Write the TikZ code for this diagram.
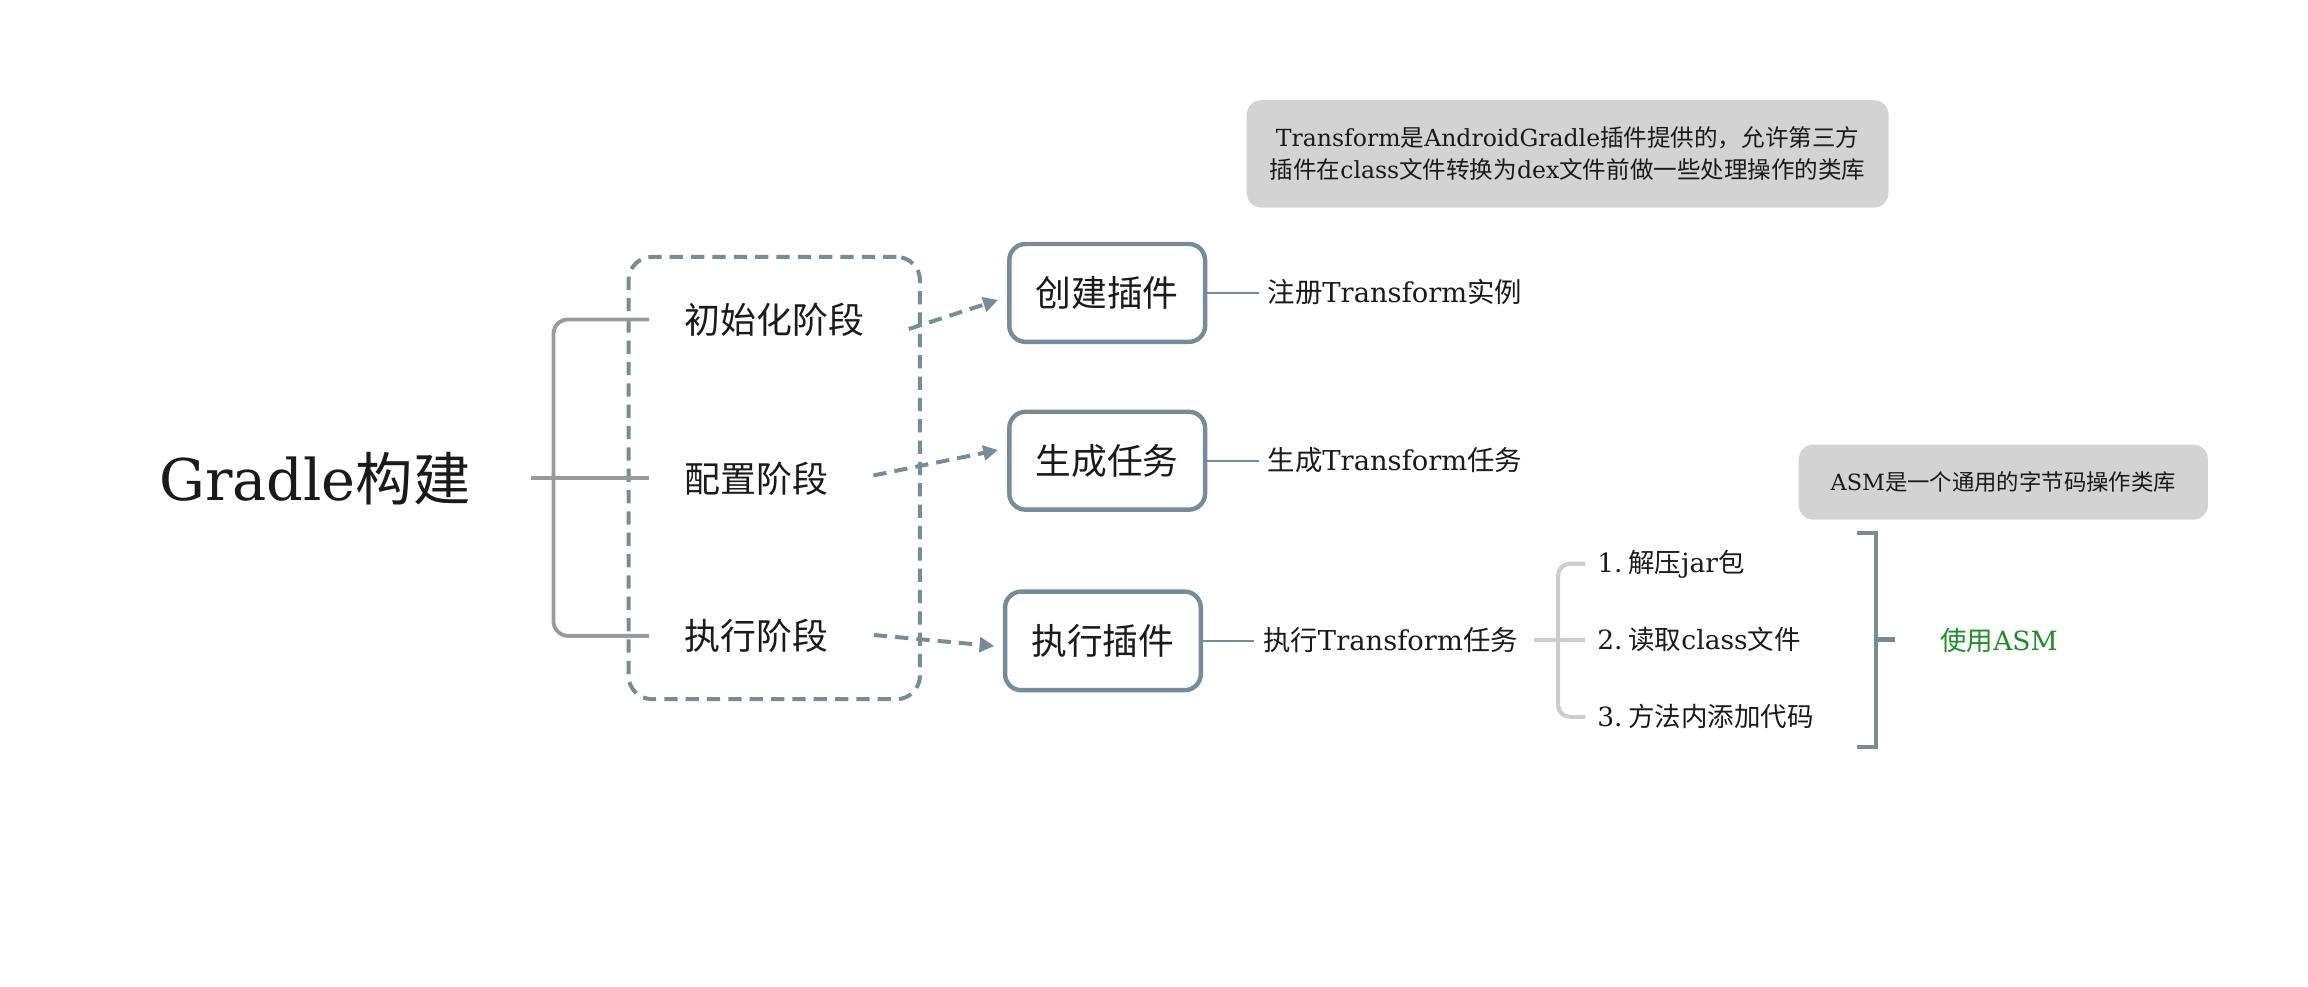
\documentclass[tikz,border=0pt]{standalone}
\usepackage{fontspec}
\setmainfont{DejaVu Serif}
\newfontfamily\cjk{Noto Sans CJK SC}
\usetikzlibrary{arrows.meta}
\newcommand\C[1]{{\cjk #1}}
\definecolor{slate}{HTML}{778B98}
\definecolor{brgray}{HTML}{9A9A9A}
\definecolor{ltgray}{HTML}{CDCDCD}
\definecolor{boxgray}{HTML}{D3D3D3}
\definecolor{asmgreen}{HTML}{1E8C28}
\definecolor{ink}{HTML}{1A1A1A}
\tikzset{
  txt/.style={inner sep=0pt, text=ink},
  phase/.style={txt, anchor=west, font=\fontsize{24.4}{29}\selectfont},
  lvthree/.style={txt, anchor=west, font=\fontsize{18.6}{22}\selectfont},
  itemtxt/.style={txt, anchor=west, font=\fontsize{18}{22}\selectfont},
  stepbox/.style={draw=slate, line width=3pt, rounded corners=11pt, fill=white,
    minimum width=133pt, minimum height=66.5pt, inner sep=0pt, text=ink,
    font=\fontsize{24.3}{29}\selectfont},
  stagebox/.style={draw=slate, line width=2.7pt, dash pattern=on 9pt off 5.5pt,
    rounded corners=16pt, minimum width=198pt, minimum height=300.5pt},
  dasharrow/.style={draw=slate, line width=2.7pt, dash pattern=on 9pt off 5.5pt,
    -{Triangle[length=10pt,width=10pt]}},
  thinline/.style={draw=slate, line width=1.4pt},
  lbr/.style={draw=brgray, line width=2.6pt},
  itembr/.style={draw=ltgray, line width=2.8pt},
  rbr/.style={draw=slate, line width=3pt},
  note/.style={fill=boxgray, rounded corners=10pt, inner sep=0pt, text=ink, align=center}
}
\begin{document}
\begin{tikzpicture}[x=1pt,y=-1pt]
\useasboundingbox (0,0) rectangle (1568,670);

% root
\node[txt, anchor=west, font=\fontsize{39}{46}\selectfont] (root) at (108,325) {Gradle\C{构建}};

% stage container
\node[stagebox] (stage) at (526,324.75) {};

% phases
\node[phase] (p1) at (465,217) {\C{初始化阶段}};
\node[phase] (p2) at (465,325) {\C{配置阶段}};
\node[phase] (p3) at (465,432) {\C{执行阶段}};

% left bracket
\coordinate (lbx) at (376,325);
\draw[lbr] ([xshift=41pt]root.east) -- ([xshift=-24pt]p2.west);
\draw[lbr, rounded corners=10pt] ([xshift=-24pt]p1.west) -| (lbx) |- ([xshift=-24pt]p3.west);

% step boxes
\node[stepbox] (b1) at (752.2,199) {\C{创建插件}};
\node[stepbox] (b2) at (752.2,313) {\C{生成任务}};
\node[stepbox, minimum height=67pt] (b3) at (749.3,435.4) {\C{执行插件}};

% dashed arrows
\draw[dasharrow] ([shift={(30pt,-6.5pt)}]p1.east) -- ([shift={(-6.2pt,-4.8pt)}]b1.west);
\draw[dasharrow] ([shift={(30.4pt,2pt)}]p2.east) -- ([shift={(-6.2pt,7.3pt)}]b2.west);
\draw[dasharrow] ([shift={(30.7pt,0.6pt)}]p3.east) -- ([shift={(-5.8pt,-3.5pt)}]b3.west);

% level three texts
\node[lvthree] (t1) at (861,198.5) {\C{注册}Transform\C{实例}};
\node[lvthree] (t2) at (861,312.5) {\C{生成}Transform\C{任务}};
\node[lvthree] (t3) at (858,435) {\C{执行}Transform\C{任务}};
\draw[thinline] (b1.east) -- ([xshift=-6pt]t1.west |- b1.east);
\draw[thinline] (b2.east) -- ([xshift=-6pt]t2.west |- b2.east);
\draw[thinline] (b3.east) -- ([xshift=-6pt]t3.west |- b3.east);

% items
\node[itemtxt] (i1) at (1085,383) {1.\hspace{0.22em}\C{解压}jar\C{包}};
\node[itemtxt] (i2) at (1085,434.5) {2.\hspace{0.22em}\C{读取}class\C{文件}};
\node[itemtxt] (i3) at (1085,487) {3.\hspace{0.22em}\C{方法内添加代码}};
\coordinate (ib) at (1058.5,434.5);
\draw[itembr] ([xshift=11pt]t3.east |- ib) -- ([xshift=-8pt]i2.west |- ib);
\draw[itembr, rounded corners=8pt] ([xshift=-8pt]i1.west) -| (ib) |- ([xshift=-8pt]i3.west);

% right bracket
\node[txt, anchor=west, text=asmgreen, font=\fontsize{18}{22}\selectfont] (asm) at (1318,435) {\C{使用}ASM};
\coordinate (rbt) at (1261.5,362);
\coordinate (rbb) at (1261.5,507.5);
\coordinate (rb) at (1274.5,434.5);
\draw[rbr] (rbt) -- (rbt -| rb) -- (rbb -| rb) -- (rbb);
\draw[rbr] (rb) -- ([xshift=-30.5pt]asm.west |- rb);

% notes
\node[note, minimum width=436pt, minimum height=73pt, font=\fontsize{16}{22}\selectfont] (n1) at (1065,104.5)
  {Transform\C{是}AndroidGradle\C{插件提供的，允许第三方}\\\C{插件在}class\C{文件转换为}dex\C{文件前做一些处理操作的类库}};
\node[note, minimum width=278pt, minimum height=51pt, font=\fontsize{15.2}{20}\selectfont] (n2) at (1361,327.5)
  {ASM\C{是一个通用的字节码操作类库}};
\end{tikzpicture}
\end{document}
